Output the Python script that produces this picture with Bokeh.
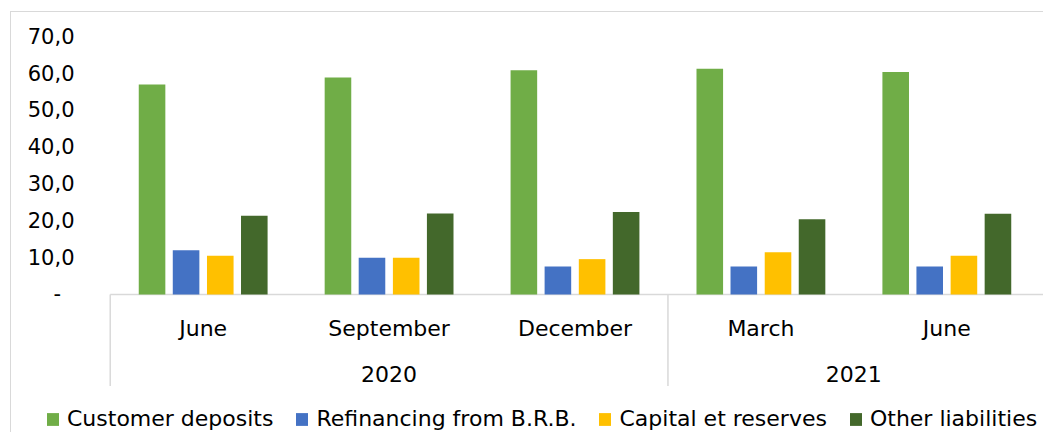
from bokeh.plotting import figure
from bokeh.layouts import column
from bokeh.models import FactorRange, FixedTicker, Legend, LegendItem, ColumnDataSource, Range1d
from bokeh.transform import dodge
from bokeh.core.properties import value
from bokeh.embed import file_html
from bokeh.resources import INLINE

# ---- data ----
years = ["2020", "2020", "2020", "2021", "2021"]
months = ["June", "September", "December", "March", "June"]
series_names = ["Customer deposits", "Refinancing from B.R.B.", "Capital et reserves", "Other liabilities"]
customer_deposits = [57.0, 58.9, 60.9, 61.3, 60.4]
refinancing_brb = [12.0, 10.0, 7.6, 7.6, 7.6]
capital_reserves = [10.5, 10.0, 9.6, 11.5, 10.5]
other_liabilities = [21.4, 22.0, 22.4, 20.4, 21.9]
y_ticks = [0, 10, 20, 30, 40, 50, 60, 70]
y_tick_labels = ["-\u00a0\u00a0", "10,0", "20,0", "30,0", "40,0", "50,0", "60,0", "70,0"]

colors = ["#70AD47", "#4472C4", "#FFC000", "#43682B"]
FONT = "DejaVu Sans"
GRAY = "#D9D9D9"

factors = list(zip(years, months))
src = ColumnDataSource(dict(x=factors, s0=customer_deposits, s1=refinancing_brb,
                            s2=capital_reserves, s3=other_liabilities))

x_range = FactorRange(*factors, factor_padding=0, group_padding=0,
                      range_padding=0.02, range_padding_units="absolute")

W = 1043
p = figure(x_range=x_range, y_range=(-29.87, 75.75), width=W, height=404,
           output_backend="svg", toolbar_location=None, x_axis_location=None,
           min_border_left=106, min_border_right=0, min_border_top=15, min_border_bottom=0)
p.frame_align = False
p.border_fill_color = None
p.background_fill_color = None
p.outline_line_color = None
p.xgrid.visible = False
p.ygrid.visible = False

ya = p.yaxis[0]
ya.ticker = FixedTicker(ticks=y_ticks)
ya.major_label_overrides = {t: l for t, l in zip(y_ticks, y_tick_labels)}
ya.axis_line_color = None
ya.major_tick_line_color = None
ya.minor_tick_line_color = None
ya.major_tick_out = 0
ya.major_tick_in = 0
ya.major_label_standoff = 32
ya.major_label_text_font = FONT
ya.major_label_text_font_size = "21px"
ya.major_label_text_color = "#000000"

# category axis lines
n_groups = len(factors)
n_2020 = years.count("2020")
line_bottom = -24.87
p.segment(x0=[0], y0=[0], x1=[n_groups + 0.1], y1=[0], line_color=GRAY, line_width=1.5)
p.segment(x0=[0, n_2020], y0=[0, 0], x1=[0, n_2020], y1=[line_bottom, line_bottom],
          line_color=GRAY, line_width=1.5)

# bars
offsets = [-0.275, -0.092, 0.092, 0.275]
for i, (off, c) in enumerate(zip(offsets, colors)):
    p.vbar(x=dodge("x", off, range=p.x_range), top=f"s{i}", width=0.143,
           source=src, fill_color=c, line_color=None)

# category labels
p.text(x=factors, y=[-9.18] * n_groups, text=months, text_font=value(FONT),
       text_font_size="22px", text_align="center", text_baseline="middle", text_color="#000000")
year_tops = ["2020", "2021"]
p.text(x=year_tops, y=[-21.48] * 2, text=year_tops, text_font=value(FONT),
       text_font_size="22px", text_align="center", text_baseline="middle", text_color="#000000")

# legend strip (same series, shown as a separate full-width strip so it can start left of the plot area)
p2 = figure(x_range=x_range, y_range=Range1d(1000, 1001), width=W, height=28,
            output_backend="svg", toolbar_location=None, x_axis_location=None, y_axis_location=None,
            min_border_left=0, min_border_right=0, min_border_top=0, min_border_bottom=0)
p2.frame_align = False
p2.border_fill_color = None
p2.background_fill_color = None
p2.outline_line_color = None
p2.xgrid.visible = False
p2.ygrid.visible = False
leg_renderers = []
for i, (off, c) in enumerate(zip(offsets, colors)):
    r = p2.vbar(x=dodge("x", off, range=p2.x_range), top=f"s{i}", width=0.143,
                source=src, fill_color=c, line_color=None)
    leg_renderers.append(r)

legend = Legend(items=[LegendItem(label=n, renderers=[r]) for n, r in zip(series_names, leg_renderers)],
                orientation="horizontal", location=(45, 1), spacing=21, label_standoff=7,
                glyph_width=15, glyph_height=16, padding=0, margin=0,
                border_line_color=None, background_fill_alpha=0,
                label_text_font=FONT, label_text_font_size="22px", label_text_color="#000000")
p2.add_layout(legend, "center")

lay = column(p, p2, spacing=0)
# light outer chart border (top and left edges only, as in the cropped reference)
lay.styles = {
    "background": (f"linear-gradient({GRAY}, {GRAY}) 10px 11px / 1px calc(100% - 11px) no-repeat, "
                   f"linear-gradient({GRAY}, {GRAY}) 10px 11px / calc(100% - 10px) 1px no-repeat, white"),
}

open("out.html", "w").write(file_html(lay, INLINE))
